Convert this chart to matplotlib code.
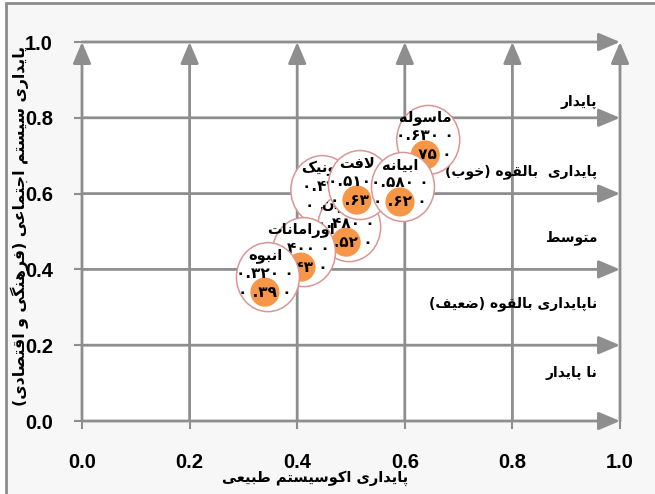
import matplotlib
matplotlib.use('Agg')
import matplotlib.pyplot as plt
from matplotlib.patches import Ellipse, Rectangle
from matplotlib.transforms import IdentityTransform, ScaledTranslation

# ---------------- data ----------------
sites = ['انبوه', 'اورامانات', 'کندوان', 'ماخونیک', 'لافت', 'ابیانه', 'ماسوله']
eco_x = [0.34, 0.407, 0.491, 0.43, 0.511, 0.591, 0.638]
soc_y = [0.34, 0.406, 0.472, 0.48, 0.583, 0.578, 0.702]
label_x = ['۳۲', '۴۰', '۴۸', '۴۴', '۵۱', '۵۸', '۶۳']
label_y = ['۳۹', '۴۳', '۵۲', '۶۰', '۶۳', '۶۲', '۷۵']
ticks = [0.0, 0.2, 0.4, 0.6, 0.8, 1.0]
tick_labels = ['0.0', '0.2', '0.4', '0.6', '0.8', '1.0']
zones = ['پایدار', 'پایداری  بالقوه (خوب)', 'متوسط', 'ناپایداری بالقوه (ضعیف)', 'نا پایدار']
zone_y = [0.842, 0.657, 0.483, 0.309, 0.127]
xlabel = 'پایداری اکوسیستم طبیعی'
ylabel = 'پایداری سیستم اجتماعی (فرهنگی و اقتصادی)'

# ---------------- minimal Persian shaping ----------------
FORMS = {
    'ا': (0xFE8D, 0xFE8E), 'آ': (0xFE81, 0xFE82),
    'ب': (0xFE8F, 0xFE90, 0xFE91, 0xFE92), 'پ': (0xFB56, 0xFB57, 0xFB58, 0xFB59),
    'ت': (0xFE95, 0xFE96, 0xFE97, 0xFE98), 'ث': (0xFE99, 0xFE9A, 0xFE9B, 0xFE9C),
    'ج': (0xFE9D, 0xFE9E, 0xFE9F, 0xFEA0), 'چ': (0xFB7A, 0xFB7B, 0xFB7C, 0xFB7D),
    'ح': (0xFEA1, 0xFEA2, 0xFEA3, 0xFEA4), 'خ': (0xFEA5, 0xFEA6, 0xFEA7, 0xFEA8),
    'د': (0xFEA9, 0xFEAA), 'ذ': (0xFEAB, 0xFEAC), 'ر': (0xFEAD, 0xFEAE),
    'ز': (0xFEAF, 0xFEB0), 'ژ': (0xFB8A, 0xFB8B),
    'س': (0xFEB1, 0xFEB2, 0xFEB3, 0xFEB4), 'ش': (0xFEB5, 0xFEB6, 0xFEB7, 0xFEB8),
    'ص': (0xFEB9, 0xFEBA, 0xFEBB, 0xFEBC), 'ض': (0xFEBD, 0xFEBE, 0xFEBF, 0xFEC0),
    'ط': (0xFEC1, 0xFEC2, 0xFEC3, 0xFEC4), 'ظ': (0xFEC5, 0xFEC6, 0xFEC7, 0xFEC8),
    'ع': (0xFEC9, 0xFECA, 0xFECB, 0xFECC), 'غ': (0xFECD, 0xFECE, 0xFECF, 0xFED0),
    'ف': (0xFED1, 0xFED2, 0xFED3, 0xFED4), 'ق': (0xFED5, 0xFED6, 0xFED7, 0xFED8),
    'ک': (0xFB8E, 0xFB8F, 0xFB90, 0xFB91), 'گ': (0xFB92, 0xFB93, 0xFB94, 0xFB95),
    'ل': (0xFEDD, 0xFEDE, 0xFEDF, 0xFEE0), 'م': (0xFEE1, 0xFEE2, 0xFEE3, 0xFEE4),
    'ن': (0xFEE5, 0xFEE6, 0xFEE7, 0xFEE8), 'و': (0xFEED, 0xFEEE),
    'ه': (0xFEE9, 0xFEEA, 0xFEEB, 0xFEEC), 'ی': (0xFBFC, 0xFBFD, 0xFBFE, 0xFBFF),
}


def shape(s):
    toks = []
    i = 0
    while i < len(s):
        c = s[i]
        if c == 'ل' and i + 1 < len(s) and s[i + 1] in 'اآ':
            toks.append('LA')
            i += 2
        else:
            toks.append(c)
            i += 1

    def is_letter(t):
        return t == 'LA' or t in FORMS

    def dual(t):
        return t in FORMS and len(FORMS[t]) == 4

    out = []
    for k, t in enumerate(toks):
        prev = toks[k - 1] if k > 0 else None
        nxt = toks[k + 1] if k + 1 < len(toks) else None
        pj = prev is not None and dual(prev)
        if t == 'LA':
            out.append('\uFEFC' if pj else '\uFEFB')
            continue
        if t not in FORMS:
            out.append(t)
            continue
        f = FORMS[t]
        nj = dual(t) and nxt is not None and is_letter(nxt)
        if pj and nj:
            out.append(chr(f[3]))
        elif pj:
            out.append(chr(f[1]))
        elif nj:
            out.append(chr(f[2]))
        else:
            out.append(chr(f[0]))
    return out


def rtl(s):
    mirror = {'(': ')', ')': '('}
    return ''.join(mirror.get(c, c) for c in shape(s)[::-1])


# ---------------- figure ----------------
W, H = 655, 494
fig = plt.figure(figsize=(W / 100, H / 100), dpi=100, facecolor='white')
fig.patches.append(Rectangle((6 / W, -0.1), 1.2, (H - 3) / H + 0.1, transform=fig.transFigure,
                             facecolor='#f7f7f7', edgecolor='#8c8c8c', lw=2, zorder=-10))

L, R, T, B = 82, 620, 42, 421
ax = fig.add_axes([L / W, 1 - B / H, (R - L) / W, (B - T) / H], zorder=1)
ax.set_facecolor('white')
ax.set_xlim(0, 1)
ax.set_ylim(0, 1)
for s in ax.spines.values():
    s.set_visible(False)

gray = '#8e8e8e'
arrow = dict(arrowstyle='-|>,head_length=1.3,head_width=0.55', color=gray, lw=2,
             mutation_scale=10, shrinkA=0, shrinkB=0)
for t in ticks:
    ax.annotate('', xy=(1.0, t), xytext=(0.0, t), arrowprops=arrow, annotation_clip=False, zorder=1)
    ax.annotate('', xy=(t, 1.0), xytext=(t, 0.0), arrowprops=arrow, annotation_clip=False, zorder=1)

ax.set_xticks(ticks)
ax.set_yticks(ticks)
tfont = dict(family='Liberation Sans', weight='bold', size=14.5)
ax.set_xticklabels(tick_labels, **tfont)
ax.set_yticklabels(tick_labels, **tfont)
ax.tick_params(axis='x', length=6, width=1.5, color=gray, pad=17)
ax.tick_params(axis='y', length=6, width=1.5, color=gray, pad=15)

pfont = dict(family='DejaVu Sans', weight='bold')

# zone labels (right-to-left)
for z, zy in zip(zones, zone_y):
    ax.text(0.958, zy, rtl(z), ha='right', va='center', fontsize=10, zorder=3, **pfont)

# data labels (callout ellipses) + markers
orange = '#f79646'
edge = '#d99694'
order = [3, 6, 2, 4, 5, 1, 0]
lbl_dx = [3, 3, 3, 9, 3, 3, 3]
lbl_dy = [15, 15, 15, 49, 15, 15, 15]
txt_dx = [-3, -3, -3, 9, -3, -3, -3]
for rank, i in enumerate(order):
    x, y = eco_x[i], soc_y[i]
    z = 5 + rank * 3
    base = IdentityTransform() + ScaledTranslation(x, y, ax.transData)
    cx, cy = lbl_dx[i], lbl_dy[i]
    ax.add_patch(Ellipse((cx, cy), 63, 69, transform=base, facecolor='white',
                         edgecolor=edge, lw=1.1, zorder=z, clip_on=False))
    ax.scatter([x], [y], s=440, color=orange, edgecolors='none', zorder=z + 1, clip_on=False)
    tx = cx + txt_dx[i]
    ax.annotate(rtl(sites[i]), xy=(x, y), xytext=(tx, cy + 22), textcoords='offset pixels',
                ha='center', va='center', fontsize=10.5, zorder=z + 2, annotation_clip=False, **pfont)
    ax.annotate('۰.' + label_x[i] + '۰ ۰', xy=(x, y), xytext=(tx, cy + 4), textcoords='offset pixels',
                ha='center', va='center', fontsize=11, zorder=z + 2, annotation_clip=False, **pfont)
    ax.annotate('۰ .' + label_y[i] + ' ۰', xy=(x, y), xytext=(tx, cy - 15), textcoords='offset pixels',
                ha='center', va='center', fontsize=11, zorder=z + 2, annotation_clip=False, **pfont)

fig.text(315 / W, 1 - 478 / H, rtl(xlabel), ha='center', va='center', fontsize=10.5, **pfont)
fig.text(20 / W, 1 - 226 / H, rtl(ylabel), ha='center', va='center', rotation=90, fontsize=11.3, **pfont)

fig.savefig('out.png', dpi=100, facecolor=fig.get_facecolor())
